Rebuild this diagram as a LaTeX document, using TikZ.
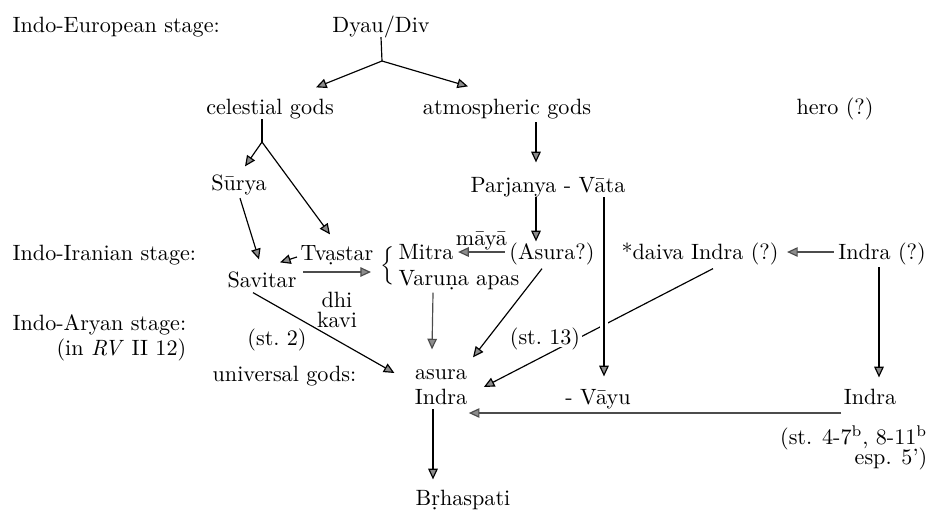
\documentclass[tikz,border=0pt]{standalone}
\usepackage{tikz}
\usetikzlibrary{arrows.meta,calc}

\begin{document}
\begin{tikzpicture}[x=0.47pt, y=-0.47pt,
    lbl/.style = {inner sep=2pt, text height=7pt, text depth=0pt, font=\fontsize{10.4pt}{12pt}\selectfont},
    con/.style = {line width=0.55pt},
    arr/.style = {con, -{Triangle[length=5pt, width=4.5pt, fill=black!45]}},
    pale/.style = {arr, draw=black!70}]
\useasboundingbox (0,0) rectangle (931,510);

\node[lbl, anchor=west] (ie) at (8,25) {Indo-European stage:};
\node[lbl] (dyau) at (381,25) {Dyau/Div};
\node[lbl] (celestial) at (270,107) {celestial gods};
\node[lbl] (atmos) at (507,107) {atmospheric gods};
\node[lbl] (hero) at (835,107) {hero (?)};
\node[lbl] (surya) at (239,183) {Sūrya};
\node[lbl] (parjanya) at (548,185) {Parjanya - Vāta};
\node[lbl, anchor=west] (ii) at (8,253) {Indo-Iranian stage:};
\node[lbl] (tvastar) at (337,253) {Tvạstar};
\node[lbl] (savitar) at (262,280) {Savitar};
\node[inner sep=0pt] (brace) at (388,266) {$\Big\{$};
\node[lbl, anchor=west] (mitra) at (394,252) {Mitra};
\node[lbl, anchor=west] (varuna) at (394,278) {Varuṇa apas};
\node[lbl] (asuraq) at (552,252) {(Asura?)};
\node[lbl] (daiva) at (700,252) {*daiva Indra (?)};
\node[lbl] (indraq) at (882,252) {Indra (?)};
\node[lbl] (dhi) at (337,300) {dhi};
\node[lbl] (kavi) at (337,320) {kavi};
\node[lbl, anchor=west] (ia) at (8,323) {Indo-Aryan stage:};
\node[lbl, anchor=east] (inrv) at (ia.east |- 0,348) {(in \textit{RV} II 12)};
\node[lbl] (st2) at (277,338) {(st.~2)};
\node[lbl, anchor=west] (universal) at (208,374) {universal gods:};
\node[lbl] (asura) at (441,372) {asura};
\node[lbl] (indra) at (441,397) {Indra};
\node[lbl] (vayu) at (598,397) {- Vāyu};
\node[lbl] (indrar) at (870,397) {Indra};
\node[lbl, anchor=east] (st4) at (932,437) {(st. 4-7\textsuperscript{b}, 8-11\textsuperscript{b}};
\node[lbl, anchor=east] (esp) at (932,457) {esp. 5')};
\node[lbl] (brh) at (463,498) {Bṛhaspati};

\coordinate (fork1) at (382,61);
\coordinate (fork2) at (262,142);

\draw[con] (dyau.south) -- (fork1);
\draw[arr] (fork1) -- ($(celestial.north)+(46,-7.5)$);
\draw[arr] (fork1) -- ($(atmos.north)+(-39,-8.5)$);
\draw[con] ($(celestial.south)+(-8,0)$) -- (fork2);
\draw[arr] (fork2) -- ($(surya.north)+(6,-4.5)$);
\draw[arr] (fork2) -- ($(tvastar.north)+(-7,-6.5)$);
\draw[arr] ($(surya.south)+(1,3)$) -- ($(savitar.north)+(-3,-8.5)$);
\draw[arr] ($(tvastar.west)+(1,4)$) -- ($(savitar.north)+(18,-5.5)$);
\draw[pale] ($(savitar.east)+(2,-8)$) -- ($(brace.west)+(-9.5,6)$);
\draw[pale] (asuraq) -- node[lbl, above=1pt] (maya) {māyā} (mitra);
\draw[arr] ($(atmos.south)+(29,3)$) -- ($(parjanya.north)+(-12,-10.5)$);
\draw[arr] ($(parjanya.south)+(-12,0)$) -- ($(asuraq.north)+(-16,1.5)$);
\draw[pale] (indraq) -- ($(daiva.east)+(4,0)$);
\draw[arr] ($(indraq.south)+(-3,3)$) -- ($(indrar.north)+(9,-7.5)$);
\draw[pale] ($(varuna.south)+(-26,2.5)$) -- ($(asura.north)+(-9,-10.5)$);
\draw[arr] ($(asuraq.south)+(-10,4.5)$) -- ($(asura.north)+(32,-2.5)$);
\draw[arr] ($(savitar.south)+(-9,0.5)$) -- ($(asura.west)+(-16,1)$);
\draw[arr] ($(daiva.south)+(13,4.5)$) -- ($(indra.east)+(12,-10)$);
\node[lbl, fill=white, inner sep=1pt] (st13) at (545,337) {(st.~13)};
\draw[arr, preaction={draw=white, line width=4pt}] ($(parjanya.south)+(56,0)$) -- ($(vayu.north)+(6,-8.5)$);
\draw[pale] ($(indrar.west)+(2,16)$) -- ($(indra.east)+(-3,16)$);
\draw[arr] ($(indra.south)+(-8,0)$) -- ($(brh.north)+(-30,-6.5)$);
\end{tikzpicture}
\end{document}
